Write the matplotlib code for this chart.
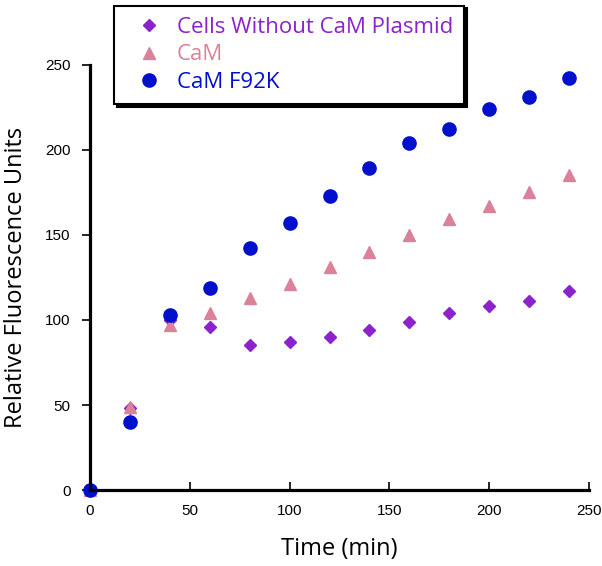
import matplotlib.pyplot as plt

time = [0, 20, 40, 60, 80, 100, 120, 140, 160, 180, 200, 220, 240]
no_plasmid = [0, 48, 100, 96, 85, 87, 90, 94, 99, 104, 108, 111, 117]
cam = [0, 49, 97, 104, 113, 121, 131, 140, 150, 159, 167, 175, 185]
cam_f92k = [0, 40, 103, 119, 142, 157, 173, 189, 204, 212, 224, 231, 242]

purple = '#8B22CC'
pink = '#D9829A'
blue = '#0010CC'

fig = plt.figure(figsize=(6.02, 5.66), dpi=100)
ax = fig.add_axes([0.1495, 0.134, 0.829, 0.752])

ax.plot(time, no_plasmid, 'D', color=purple, ms=6.5, label='Cells Without CaM Plasmid', clip_on=False)
ax.plot(time, cam, '^', color=pink, ms=8.5, label='CaM', clip_on=False)
ax.plot(time, cam_f92k, 'o', color=blue, ms=9.5, label='CaM F92K', clip_on=False)

ax.set_xlim(0, 250)
ax.set_ylim(0, 250)
ax.set_xticks([0, 50, 100, 150, 200, 250])
ax.set_yticks([0, 50, 100, 150, 200, 250])
for s in ['top', 'right']:
    ax.spines[s].set_visible(False)
for s in ['left', 'bottom']:
    ax.spines[s].set_linewidth(2.3)
ax.tick_params(axis='x', direction='in', length=6, width=1.2, labelsize=11, pad=10)
ax.tick_params(axis='y', direction='out', length=6, width=1.2, labelsize=11, pad=8)
for t in ax.get_xticklabels() + ax.get_yticklabels():
    t.set_family('Liberation Sans')

ax.set_xlabel('Time (min)', family='Open Sans', fontsize=17, labelpad=14)
ax.set_ylabel('Relative Fluorescence Units', family='Open Sans', fontsize=17, labelpad=12)

leg = fig.legend(loc='lower left', bbox_to_anchor=(0.19, 0.816), prop={'family': 'Open Sans', 'size': 16},
                 frameon=True, fancybox=False, shadow={'color': 'black', 'alpha': 1}, edgecolor='black',
                 labelspacing=0.3, handlelength=2.1, handletextpad=0.2, borderpad=0.5, borderaxespad=0)
leg.get_frame().set_linewidth(1.5)
for txt, c in zip(leg.get_texts(), [purple, pink, blue]):
    txt.set_color(c)

plt.savefig('out.png', dpi=100)
